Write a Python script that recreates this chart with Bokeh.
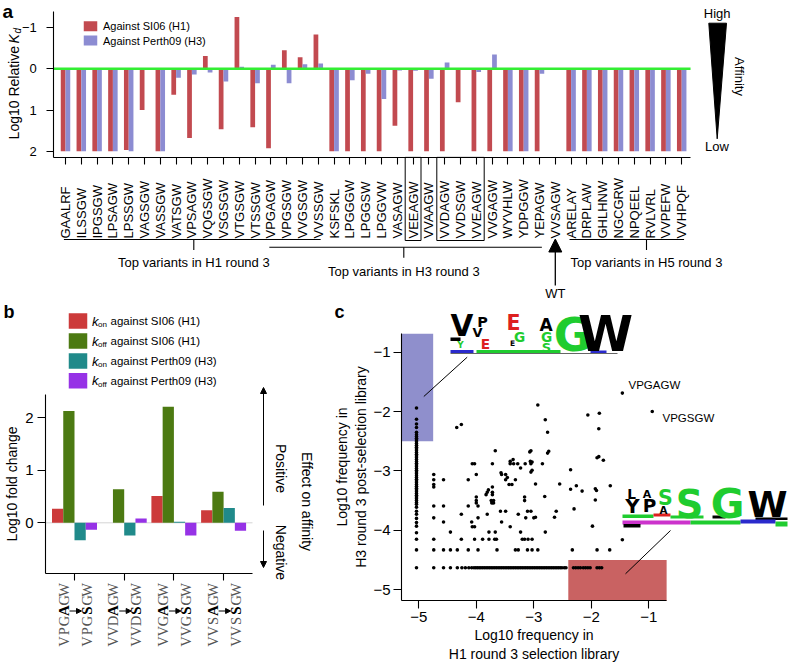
from math import pi
from bokeh.plotting import figure
from bokeh.models import Range1d, FixedTicker, Arrow, NormalHead
from bokeh.layouts import column, row
from bokeh.core.properties import value
from bokeh.embed import file_html
from bokeh.resources import INLINE

NaN = float("nan")

# ---------------- Panel a data ----------------
a_variants = ["GAALRF", "ILSSGW", "IPGSGW", "LPSAGW", "LPSSGW", "VAGSGW", "VASSGW", "VATSGW",
              "VPSAGW", "VQGSGW", "VSGSGW", "VTGSGW", "VTSSGW", "VPGAGW", "VPGSGW", "VVGSGW",
              "VVSSGW", "KSFSKL", "LPGGGW", "LPGGSW", "LPGGVW", "VASAGW", "VEEAGW", "VVAAGW",
              "VVDAGW", "VVDSGW", "VVEAGW", "VVGAGW", "WYVHLW", "YDPGGW", "YEPAGW", "VVSAGW",
              "ARELAY", "DRPLAW", "GHLHNW", "NGCGRW", "NPQEEL", "RVLVRL", "VVPEFW", "VVHPQF"]
a_kd_si06 = [2, 2, 2, 2, 1.97, 1.0, 2, 0.63, 1.68, -0.31,
             1.47, -1.26, 1.42, 1.93, -0.45, -0.28, -0.83, 2, 2, 2,
             2, 1.38, 2, 2, 2, 0.81, 2, 2, 2, 2,
             2, NaN, 2, 2, 2, 2, 2, 2, 2, 2]
a_kd_perth09 = [2, 2, 2, 2, 2, 0, 2, 0.22, 0.14, 0.09,
                0.31, -0.05, 0.35, -0.10, 0.35, -0.11, -0.13, 2, 0.28, 0.12,
                0.73, 0.04, 0.05, 0.24, -0.15, 0, 0.08, -0.35, 2, 2,
                0.12, NaN, 2, 2, 2, 2, 2, 2, 2, 2]
a_series = ["Against SI06 (H1)", "Against Perth09 (H3)"]
a_yticks = [-1, 0, 1, 2]
a_boxed = [("VEEAGW", "VEEAGW"), ("VVDAGW", "VVEAGW")]
a_groups = ["Top variants in H1 round 3", "Top variants in H3 round 3", "Top variants in H5 round 3"]
a_group_first = ["GAALRF", "VPGAGW", "ARELAY"]
a_group_last = ["VVSSGW", "YEPAGW", "VVHPQF"]
a_wt = "VVSAGW"

# ---------------- Panel b data ----------------
b_from = ["VPGAGW", "VVDAGW", "VVGAGW", "VVSAGW"]
b_to = ["VPGSGW", "VVDSGW", "VVGSGW", "VVSSGW"]
b_kon_si06 = [0.27, 0.0, 0.51, 0.24]
b_koff_si06 = [2.13, 0.64, 2.21, 0.59]
b_kon_perth09 = [-0.33, -0.24, 0.02, 0.28]
b_koff_perth09 = [-0.13, 0.08, -0.24, -0.15]
b_yticks = [0, 1, 2]

# ---------------- Panel c data ----------------
c_ticks = [-5, -4, -3, -2, -1]
# variants absent from the H1 library (left column)
c_col_h1 = -5.04
c_col_h3 = [-1.94, -2.13, -2.21, -2.27, -2.35, -2.39, -2.42, -2.45, -2.48, -2.51, -2.54, -2.57,
            -2.60, -2.63, -2.66, -2.69, -2.72, -2.75, -2.78, -2.81, -2.84, -2.87, -2.90, -2.93,
            -2.96, -2.99, -3.02, -3.05, -3.08, -3.11, -3.14, -3.17, -3.20, -3.23, -3.26, -3.29,
            -3.32, -3.35, -3.38, -3.41, -3.44, -3.47, -3.50, -3.53, -3.56, -3.61, -3.68, -3.73,
            -3.80, -3.87, -3.93, -4.04, -4.15, -4.33, -4.63]
# variants seen once in the H3 library (bottom row)
c_row_h3 = -4.63
c_row_h1 = [-4.74, -4.57, -4.45, -4.33, -4.25, -4.19, -4.13, -4.08, -4.04, -4.01, -3.98, -3.95,
            -3.92, -3.89, -3.86, -3.83, -3.80, -3.77, -3.74, -3.71, -3.68, -3.65, -3.62, -3.59,
            -3.56, -3.53, -3.50, -3.47, -3.44, -3.41, -3.38, -3.35, -3.32, -3.29, -3.26, -3.23,
            -3.20, -3.17, -3.14, -3.11, -3.08, -3.05, -3.02, -2.99, -2.96, -2.93, -2.90, -2.87,
            -2.84, -2.81, -2.78, -2.75, -2.72, -2.69, -2.66, -2.63, -2.60, -2.57, -2.54, -2.51,
            -2.47, -2.44, -2.31, -2.27, -2.23, -2.19, -2.14, -2.10, -2.06, -2.02, -1.90, -1.86, -1.82]
c_other_h1 = [-4.74, -4.57, -4.45, -4.33, -4.14, -3.97, -3.64, -3.32, -3.27, -3.11, -3.03, -2.93, -2.33, -1.90, -1.68,
              -4.74, -4.26, -4.03, -3.89, -3.78, -3.68, -3.65, -3.20, -3.16, -3.10, -3.03, -1.46,
              -4.45, -3.78, -3.67, -3.23, -2.80,
              -4.07, -4.03, -3.41, -1.98,
              -4.57, -4.08, -3.56,
              -4.74, -3.97, -3.14, -3.00, -2.97, -2.64,
              -4.26, -3.81, -3.27,
              -3.58, -3.49, -3.11, -3.05, -2.61,
              -2.30,
              -4.74, -4.57, -4.14, -3.97,
              -4.00, -3.73, -3.72, -3.70,
              -4.00, -3.74, -3.70, -3.16, -1.93,
              -4.00, -3.16, -2.81,
              -3.83, -3.72,
              -3.81, -3.72,
              -3.79, -2.36,
              -3.72, -4.74,
              -4.74, -3.43, -3.38, -2.97, -2.55, -1.67, -2.26, -1.93, -1.91, -2.16,
              -4.74, -4.57, -4.14, -3.49, -3.32,
              -3.46,
              -4.74, -4.00, -3.56, -3.49,
              -3.05, -3.57,
              -2.36, -3.03,
              -3.23,
              -4.07, -4.03, -3.72, -3.41, -3.35, -3.28, -3.15, -3.05, -2.85,
              -3.41, -3.06, -3.03, -1.79,
              -3.36,
              -1.90, -1.87,
              -3.07, -3.05, -2.76, -2.74,
              -3.67,
              -2.76,
              -1.87,
              -4.34, -4.26,
              -2.80,
              -2.06, -1.86,
              -2.93,
              -1.46, -0.94]
c_other_h3 = [-4.33, -4.33, -4.33, -4.33, -4.33, -4.33, -4.33, -4.33, -4.33, -4.33, -4.33, -4.33, -4.33, -4.33, -4.33,
              -4.15, -4.15, -4.15, -4.15, -4.15, -4.15, -4.15, -4.15, -4.15, -4.15, -4.15, -4.16,
              -4.03, -4.03, -4.03, -4.03, -4.03,
              -3.94, -3.94, -3.94, -3.93,
              -3.86, -3.86, -3.86,
              -3.79, -3.79, -3.79, -3.79, -3.78, -3.78,
              -3.73, -3.73, -3.73,
              -3.68, -3.68, -3.68, -3.68, -3.68,
              -3.64,
              -3.59, -3.59, -3.59, -3.59,
              -3.54, -3.54, -3.53, -3.54,
              -3.50, -3.50, -3.50, -3.50, -3.49,
              -3.44, -3.44, -3.43,
              -3.40, -3.40,
              -3.36, -3.36,
              -3.32, -3.31,
              -3.27, -3.27,
              -3.23, -3.23, -3.23, -3.22, -3.22, -3.25, -3.25, -3.30, -3.33, -3.34,
              -3.15, -3.15, -3.15, -3.15, -3.15,
              -3.11,
              -3.06, -3.06, -3.06, -3.06,
              -3.02, -3.03,
              -2.98, -2.99,
              -2.95,
              -2.88, -2.88, -2.88, -2.88, -2.88, -2.88, -2.88, -2.88, -2.88,
              -2.84, -2.84, -2.85, -2.82,
              -2.81,
              -2.78, -2.76,
              -2.68, -2.66, -2.70, -2.67,
              -2.66,
              -2.35,
              -2.29,
              -2.27, -2.22,
              -2.14,
              -2.06, -2.03,
              -1.89,
              -1.69, -2.00]
c_named = ["VPGAGW", "VPGSGW"]
c_named_h1 = [-1.46, -0.94]
c_named_h3 = [-1.69, -2.00]
c_box_h3_only = (-5.3, -4.75, -2.5, -0.69)   # x0, x1, y0, y1
c_box_h1_only = (-2.4, -0.69, -5.19, -4.5)

# ---------------- styles ----------------
SANS = "Liberation Sans"
SERIF = "Liberation Serif"
LOGO = "DejaVu Sans"
A_RED, A_BLUE, A_GREEN = "#c24a50", "#8c8cd2", "#33ee33"
B_RED, B_GREEN, B_TEAL, B_PURPLE = "#cc3a3a", "#4c7a12", "#208a8a", "#9632e6"
C_BLUE, C_RED = "#8f8fcc", "#c96262"
L_K, L_G, L_R, L_B, L_M = "#000000", "#1fcc2f", "#dd2020", "#2a2acc", "#cc33cc"


def make_fig(w, h, xr, yr):
    p = figure(width=w, height=h, x_range=Range1d(*xr), y_range=Range1d(*yr),
               output_backend="svg", toolbar_location=None,
               min_border=0, min_border_left=0, min_border_right=0,
               min_border_top=0, min_border_bottom=0,
               outline_line_color=None, background_fill_color="white",
               border_fill_color="white")
    p.xgrid.visible = False
    p.ygrid.visible = False
    return p


def style_axis(axis, size=13, tick_out=7, standoff=4):
    axis.axis_line_color = "black"
    axis.axis_line_width = 1.1
    axis.major_tick_line_color = "black"
    axis.major_tick_line_width = 1.1
    axis.major_tick_in = 0
    axis.major_tick_out = tick_out
    axis.minor_tick_line_color = None
    axis.major_label_text_font = SANS
    axis.major_label_text_font_size = f"{size}px"
    axis.major_label_text_color = "black"
    axis.major_label_standoff = standoff
    axis.axis_label_text_font = SANS
    axis.axis_label_text_font_style = "normal"
    axis.axis_label_text_color = "black"


def put_text(p, x, y, s, size=13, font=SANS, style="normal", color="black",
             align="center", baseline="middle", angle=0.0):
    p.text(x=[x], y=[y], text=[s], angle=angle, text_font=value(font),
           text_font_size=value(f"{size}px"), text_font_style=value(style),
           text_color=color, text_align=value(align), text_baseline=value(baseline))


def minus(v):
    return str(v).replace("-", "\u2212")


# ======================= Panel a =======================
AX1, ASTEP, AY0, AYU = 65.0, 15.8, 68.3, 41.2
def ax_(X): return 1 + (X - AX1) / ASTEP
def ay_(Y): return (Y - AY0) / AYU

pa = make_fig(788, 300, (ax_(0), ax_(788)), (ay_(300), ay_(0)))
idx = {v: i + 1 for i, v in enumerate(a_variants)}
xs = list(range(1, len(a_variants) + 1))
a_xmax = len(a_variants) + 0.56
a_ymax = 2.15

pa.vbar(x=[i - 0.15 for i in xs], bottom=0, top=a_kd_si06, width=0.3,
        fill_color=A_RED, line_color=None)
pa.vbar(x=[i + 0.15 for i in xs], bottom=0, top=a_kd_perth09, width=0.3,
        fill_color=A_BLUE, line_color=None)
pa.segment(x0=[ax_(53.3)], y0=[0], x1=[a_xmax], y1=[0], line_color=A_GREEN, line_width=2.5)

style_axis(pa.xaxis[0], size=13, tick_out=7)
pa.xaxis.fixed_location = a_ymax
pa.xaxis.bounds = (ax_(53.3), a_xmax)
pa.xaxis.ticker = FixedTicker(ticks=xs)
pa.xaxis.major_label_overrides = {i: "" for i in xs}
style_axis(pa.yaxis[0], size=13, tick_out=7, standoff=10)
pa.yaxis.fixed_location = ax_(53.3)
pa.yaxis.bounds = (-1.38, a_ymax)
pa.yaxis.ticker = FixedTicker(ticks=a_yticks)
pa.yaxis.major_label_overrides = {t: minus(t) for t in a_yticks}

# variant names under the axis (bottom aligned)
pa.text(x=xs, y=[ay_(238)] * len(xs), text=a_variants, angle=pi / 2,
        text_font=value(SANS), text_font_size=value("13px"),
        text_align="left", text_baseline="middle", text_color="black")
for s, e in a_boxed:
    pa.quad(left=[idx[s] - 0.5], right=[idx[e] + 0.5], top=[a_ymax], bottom=[ay_(240)],
            fill_color=None, line_color="black", line_width=1)

# group brackets
br_y = [239, 246.7, 239]
br_tick = [193.3, 403.3, 646]
br_text_y = [262, 270.5, 261.5]
for name, s, e, yb, tx, ty in zip(a_groups, a_group_first, a_group_last, br_y, br_tick, br_text_y):
    pa.segment(x0=[idx[s] - 0.1], y0=[ay_(yb)], x1=[idx[e] + 0.15], y1=[ay_(yb)],
               line_color="black", line_width=1.1)
    pa.segment(x0=[ax_(tx)], y0=[ay_(yb)], x1=[ax_(tx)], y1=[ay_(yb + 10.5)],
               line_color="black", line_width=1.1)
    put_text(pa, ax_(tx), ay_(ty), name, size=13)
pa.add_layout(Arrow(end=NormalHead(size=13, fill_color="black", line_color="black"),
                    x_start=idx[a_wt], y_start=ay_(285), x_end=idx[a_wt], y_end=ay_(238.5),
                    line_color="black", line_width=1.3))
put_text(pa, idx[a_wt], ay_(292.5), "WT", size=13)

# legend
pa.rect(x=[ax_(90)] * 2, y=[ay_(25.7), ay_(40)], width=13.5, height=10,
        width_units="screen", height_units="screen", fill_color=[A_RED, A_BLUE], line_color=None)
put_text(pa, ax_(102.5), ay_(25.7), a_series[0], size=11, align="left")
put_text(pa, ax_(102.5), ay_(40), a_series[1], size=11, align="left")

# y label with subscript
put_text(pa, ax_(13), ay_(45.5), "Log10 Relative", size=14, align="right", angle=pi / 2)
put_text(pa, ax_(13), ay_(43), "K", size=14, style="italic", align="left", angle=pi / 2)
put_text(pa, ax_(17), ay_(33), "d", size=10, style="italic", align="left", angle=pi / 2)

# affinity wedge
pa.patch(x=[ax_(708.3), ax_(726), ax_(716.7)], y=[ay_(22.7), ay_(22.7), ay_(138.3)],
         fill_color="black", line_color="black")
put_text(pa, ax_(716.7), ay_(13), "High", size=13)
put_text(pa, ax_(716.5), ay_(146), "Low", size=13)
put_text(pa, ax_(738.5), ay_(76), "Affinity", size=13, angle=-pi / 2)
put_text(pa, ax_(2), ay_(11), "a", size=19, style="bold", align="left")

# ======================= Panel b =======================
BX1, BSTEP, BY0, BYU = 74.0, 49.7, 522.3, 52.5
def bx_(X): return 1 + (X - BX1) / BSTEP
def by_(Y): return (BY0 - Y) / BYU

pb = make_fig(330, 362, (bx_(0), bx_(330)), (by_(662), by_(300)))
groups = list(range(1, len(b_from) + 1))
bw = 11.25 / BSTEP
b_xmin, b_xmax = bx_(45), bx_(252)
b_ymin, b_ymax = by_(573), by_(394)
pb.segment(x0=[b_xmin], y0=[0], x1=[b_xmax], y1=[0], line_color="#d4d4d4", line_width=1)
b_series = [(b_kon_si06, B_RED), (b_koff_si06, B_GREEN), (b_kon_perth09, B_TEAL), (b_koff_perth09, B_PURPLE)]
for k, (vals, col) in enumerate(b_series):
    off = (k - 1.5) * bw
    pb.vbar(x=[g + off for g in groups], bottom=0, top=vals, width=bw,
            fill_color=col, line_color=None)

style_axis(pb.yaxis[0], size=15, tick_out=8, standoff=4)
pb.yaxis.fixed_location = b_xmin
pb.yaxis.bounds = (b_ymin, b_ymax)
pb.yaxis.ticker = FixedTicker(ticks=b_yticks)
pb.yaxis.axis_label = "Log10 fold change"
pb.yaxis.axis_label_text_font_size = "14px"
pb.yaxis.axis_label_standoff = 2
style_axis(pb.xaxis[0], size=13, tick_out=7)
pb.xaxis.fixed_location = b_ymin
pb.xaxis.bounds = (b_xmin, b_xmax)
pb.xaxis.ticker = FixedTicker(ticks=groups)
pb.xaxis.major_label_overrides = {g: "" for g in groups}

# mutation labels: two vertical words with the changed residue in bold
for g, src, dst in zip(groups, b_from, b_to):
    for dx, word in ((-11, src), (12, dst)):
        for i, ch in enumerate(word):
            bold = (i == 3)
            put_text(pb, g + dx / BSTEP, by_(641 - 10.3 * i), ch, size=15 if bold else 14.5, font=SERIF,
                     style="bold" if bold else "normal", color="black" if bold else "#555555",
                     angle=pi / 2)
    pb.add_layout(Arrow(end=NormalHead(size=5, fill_color="black", line_color="black"),
                        x_start=g - 5 / BSTEP, y_start=by_(610.5), x_end=g + 7 / BSTEP, y_end=by_(610.5),
                        line_color="black", line_width=1))

# legend
b_names = [("on", "SI06 (H1)"), ("off", "SI06 (H1)"), ("on", "Perth09 (H3)"), ("off", "Perth09 (H3)")]
b_cols = [B_RED, B_GREEN, B_TEAL, B_PURPLE]
b_leg_y = [320.5, 340.5, 360.5, 380.3]
pb.rect(x=[bx_(77.5)] * 4, y=[by_(v) for v in b_leg_y], width=18.5, height=15.5,
        width_units="screen", height_units="screen", fill_color=b_cols, line_color=None)
for (sub, tgt), yy in zip(b_names, b_leg_y):
    put_text(pb, bx_(91.5), by_(yy), "k", size=13, style="italic", align="left")
    put_text(pb, bx_(97.5), by_(yy + 3.5), sub, size=8, align="left")
    put_text(pb, bx_(110), by_(yy), "against " + tgt, size=11.5, align="left")

# effect on affinity
pb.add_layout(Arrow(end=NormalHead(size=6, fill_color="black", line_color="black"),
                    x_start=bx_(263), y_start=by_(505), x_end=bx_(263), y_end=by_(387),
                    line_color="black", line_width=1))
pb.add_layout(Arrow(end=NormalHead(size=6, fill_color="black", line_color="black"),
                    x_start=bx_(263), y_start=by_(530), x_end=bx_(263), y_end=by_(567),
                    line_color="black", line_width=1))
put_text(pb, bx_(280), by_(468), "Positive", size=14, angle=-pi / 2)
put_text(pb, bx_(280), by_(552), "Negative", size=14, angle=-pi / 2)
put_text(pb, bx_(306), by_(501), "Effect on affinity", size=14, angle=-pi / 2)
put_text(pb, bx_(3), by_(311.5), "b", size=18, style="bold", align="left")

# ======================= Panel c =======================
CX5, CXU, CY2, CYU = 418.3, 57.5, 411.0, 59.4
def cx_(X): return -5 + (X - CX5) / CXU
def cy_(Y): return -2 - (Y - CY2) / CYU

pc = make_fig(458, 362, (cx_(330), cx_(788)), (cy_(662), cy_(300)))
x0, x1, y0, y1 = c_box_h3_only
pc.quad(left=[x0], right=[x1], bottom=[y0], top=[y1], fill_color=C_BLUE, line_color=None)
x0, x1, y0, y1 = c_box_h1_only
pc.quad(left=[x0], right=[x1], bottom=[y0], top=[y1], fill_color=C_RED, line_color=None)

pts_x = [c_col_h1] * len(c_col_h3) + c_row_h1 + c_other_h1
pts_y = c_col_h3 + [c_row_h3] * len(c_row_h1) + c_other_h3
pc.scatter(x=pts_x, y=pts_y, marker="circle", size=3.6, fill_color="black", line_color=None)
for name, hx, hy, tx, ty in zip(c_named, c_named_h1, c_named_h3, [628, 662], [384, 417.5]):
    put_text(pc, cx_(tx), cy_(ty), name, size=11.5, align="left")

style_axis(pc.xaxis[0], size=15, tick_out=8, standoff=3)
pc.xaxis.fixed_location = -5.19
pc.xaxis.bounds = (-5.3, -0.69)
pc.xaxis.ticker = FixedTicker(ticks=c_ticks)
pc.xaxis.major_label_overrides = {t: minus(t) for t in c_ticks}
pc.xaxis.axis_label = "Log10 frequency in\nH1 round 3 selection library"
pc.xaxis.axis_label_text_font_size = "14px"
pc.xaxis.axis_label_standoff = 2
style_axis(pc.yaxis[0], size=15, tick_out=8, standoff=3)
pc.yaxis.fixed_location = -5.3
pc.yaxis.bounds = (-5.19, -0.69)
pc.yaxis.ticker = FixedTicker(ticks=c_ticks)
pc.yaxis.major_label_overrides = {t: minus(t) for t in c_ticks}
pc.yaxis.axis_label = "Log10 frequency in\nH3 round 3 post-selection library"
pc.yaxis.axis_label_text_font_size = "14px"
pc.yaxis.axis_label_standoff = 1

# callout lines to the sequence logos
pc.segment(x0=[cx_(466.7), cx_(670)], y0=[cy_(356.7), cy_(530)],
           x1=[cx_(423.3), cx_(625)], y1=[cy_(396), cy_(573.3)], line_color="black", line_width=1)

# sequence logos (letter, x centre, top, bottom, colour) in page pixels
logo_letters = [
    ("V", 461.5, 315, 336.5, L_K), ("P", 482, 316, 326.5, L_K), ("V", 477, 327, 336.5, L_K),
    ("E", 513, 315, 330, L_R), ("A", 545.5, 318, 330.5, L_K), ("G", 519, 331, 341, L_G),
    ("G", 546, 331, 341, L_G), ("G", 572, 318, 351.5, L_G), ("W", 605, 315, 351.5, L_K),
    ("Y", 460, 341, 347.5, L_G), ("E", 485, 338, 348, L_R), ("E", 512, 340.5, 346, L_K),
    ("S", 546, 342, 351.5, L_G),
    ("L", 631, 488, 498, L_K), ("Y", 632, 498.5, 513, L_K), ("A", 646.5, 490, 498, L_K),
    ("P", 649, 498.5, 512, L_K), ("S", 665, 490, 505, L_G), ("A", 663, 505.5, 513, L_K),
    ("S", 689, 490, 518, L_G), ("G", 727, 488, 518, L_G), ("W", 767, 490.5, 517, L_K),
]
logo_bands = [
    (450, 460, 337, 340.5, L_K), (450, 473, 349.5, 352.5, L_B), (476, 560, 349.5, 352.5, L_G),
    (590, 606, 350, 352.5, L_B), (450, 617, 352.5, 353.5, "#666666"),
    (622, 653, 514, 517.5, L_G), (653, 670, 513, 516, L_R), (670, 703, 515, 518, L_G),
    (712, 725, 515, 518, L_K), (755, 787, 517, 519.5, L_K),
    (622, 690, 520, 524, L_M), (690, 740, 520, 524, L_G), (740, 775, 519, 523, L_B),
    (775, 787, 521, 526, L_G), (623, 640, 523.5, 527, L_K),
]
for x0_, x1_, t_, b_, col in logo_bands:
    pc.quad(left=[cx_(x0_)], right=[cx_(x1_)], top=[cy_(t_)], bottom=[cy_(b_)],
            fill_color=col, line_color=None)
for ch, xc, t_, b_, col in logo_letters:
    fs = (b_ - t_) / 0.73
    put_text(pc, cx_(xc), cy_((t_ + b_) / 2), ch, size=round(fs, 1), font=LOGO, style="bold",
             color=col, baseline="middle")

put_text(pc, cx_(334), cy_(311), "c", size=18, style="bold", align="left")

layout = column(pa, row(pb, pc))
open("out.html", "w").write(file_html(layout, INLINE))
